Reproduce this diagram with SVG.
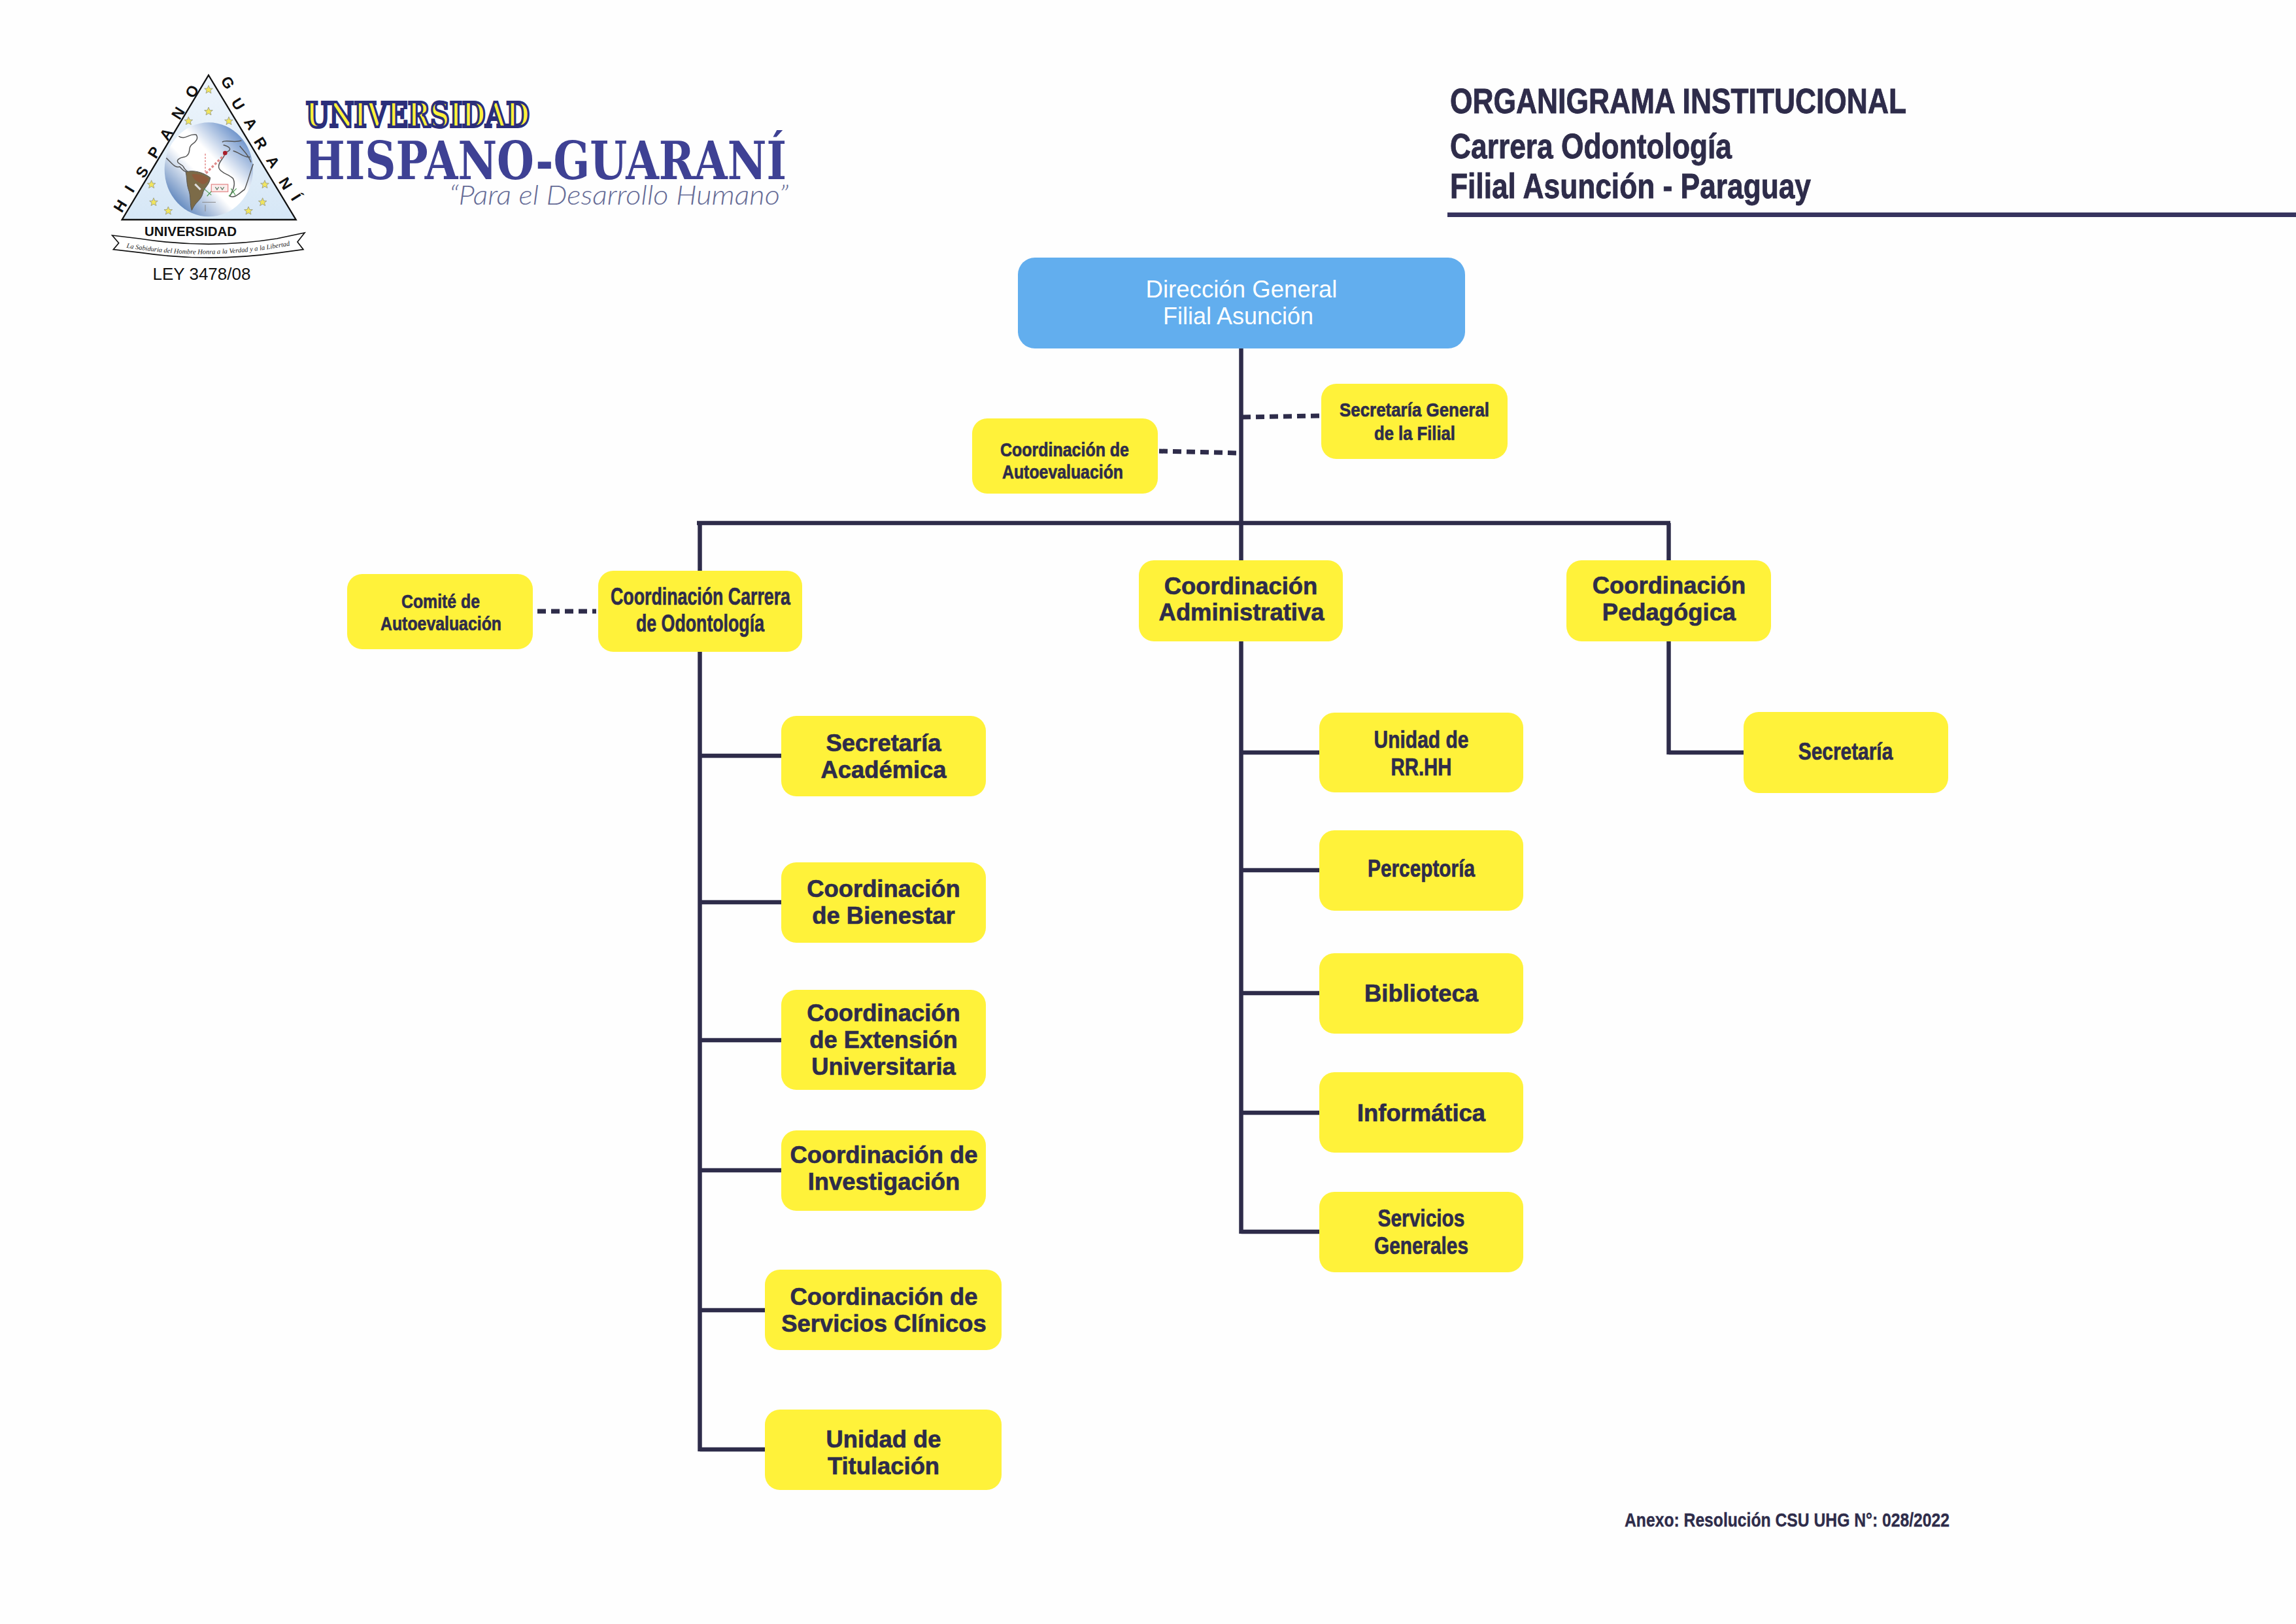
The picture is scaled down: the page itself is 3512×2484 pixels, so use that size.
<svg xmlns="http://www.w3.org/2000/svg" xmlns:xlink="http://www.w3.org/1999/xlink" width="3512" height="2484" viewBox="0 0 3512 2484">
<style>
.box{fill:#FFF23A}
.t{font-family:"Liberation Sans",Arial,sans-serif;font-weight:bold;font-size:36.4px;fill:#2E2C4A;stroke:#2E2C4A;stroke-width:.7;text-anchor:middle}
.s{font-size:30px}
.w{font-family:"Liberation Sans",Arial,sans-serif;font-size:37px;fill:#FFFFFF;text-anchor:middle}
.h{font-family:"Liberation Sans",Arial,sans-serif;font-weight:bold;font-size:53px;fill:#2E2C4A;stroke:#2E2C4A;stroke-width:.9}
.ln{stroke:#2E2C4A;stroke-width:6.5;fill:none}
.ds{stroke:#2E2C4A;stroke-width:7;fill:none;stroke-dasharray:13 8}
.lt{font-family:"Liberation Sans",Arial,sans-serif;font-weight:bold;font-size:70px;fill:#111;text-anchor:middle}
.st{fill:#F1E55C;stroke:#A3A58A;stroke-width:3}
.land{fill:none;stroke:#555;stroke-width:4.5}
</style>
<defs>
<linearGradient id="tri" x1="0" y1="0" x2="0" y2="1"><stop offset="0" stop-color="#EEF5FC"/><stop offset="1" stop-color="#D6E7F6"/></linearGradient>
<linearGradient id="globe" gradientUnits="userSpaceOnUse" x1="650" y1="300" x2="300" y2="640"><stop offset="0" stop-color="#4F7DC0"/><stop offset=".4" stop-color="#FFFFFF"/><stop offset=".6" stop-color="#FFFFFF"/><stop offset="1" stop-color="#4B77B5"/></linearGradient>
<path id="star" class="st" d="M0,-20 L5.5,-6.5 L19,-6 L8.5,2.5 L12,16 L0,8.5 L-12,16 L-8.5,2.5 L-19,-6 L-5.5,-6.5 Z"/>
<path id="ribbonCurve" d="M100,836 Q470,900 852,826"/>
</defs>
<rect width="3512" height="2484" fill="#FEFEFE"/>

<g id="logo">
<g id="emblem" transform="translate(160 100) scale(.33333)">
<path d="M477,45 L878,708 L80,708 Z" fill="url(#tri)" stroke="#111" stroke-width="7" stroke-linejoin="miter"/>
<ellipse cx="478" cy="478" rx="203" ry="216" fill="url(#globe)"/>
<path class="land" d="M340,325 C370,345 385,312 420,318 C432,335 420,350 402,362 C380,378 398,395 380,412 C368,428 350,415 335,435 C330,455 360,450 365,472 C372,482 378,486 385,490"/>
<path class="land" d="M283,425 C310,450 322,472 345,465 C358,480 368,490 385,490"/>
<path d="M372,490 C400,478 450,488 485,515 C482,550 455,560 450,590 C440,622 420,622 400,665 C390,640 397,600 385,570 C375,540 378,510 372,490 Z" fill="#7C6B48" stroke="#555" stroke-width="3"/>
<path d="M400,500 C430,495 460,505 478,520 C470,545 450,550 440,540 C420,530 405,520 400,500 Z" fill="#8E5B3C"/>
<path d="M415,545 L440,570" stroke="#DDD" stroke-width="9" fill="none"/>
<path class="land" d="M540,352 C555,338 590,358 628,345 M545,365 C570,372 590,385 560,398 M590,392 C620,400 640,425 668,420 M620,370 C640,395 660,410 672,445"/>
<path class="land" d="M552,410 C540,432 518,450 525,472 C535,497 570,498 590,520 C602,545 590,572 575,600 C600,612 622,582 642,570 C652,550 668,490 682,452"/>
<path d="M462,405 L462,495" stroke="#E79A9A" stroke-width="5" stroke-dasharray="9 6" fill="none"/>
<path d="M465,495 L548,412" stroke="#DE8A8A" stroke-width="10" stroke-dasharray="11 8" fill="none"/>
<circle cx="553" cy="402" r="10" fill="#A81E2A"/>
<rect x="490" y="546" width="76" height="34" fill="#FBEDEC" stroke="#E58F8F" stroke-width="4"/>
<path d="M508,558 L516,570 L524,558 M532,558 L540,570 L548,558" stroke="#5B7F6A" stroke-width="4" fill="none"/>
<path d="M455,565 L490,595 M470,600 L490,578 M570,600 L605,565 M580,565 L600,595" stroke="#4F9A55" stroke-width="3.5" fill="none"/>
<path d="M448,628 L510,628 M462,640 L462,670" stroke="#888" stroke-width="3" fill="none"/>
<use xlink:href="#star" href="#star" x="477" y="112"/>
<use xlink:href="#star" href="#star" x="477" y="212"/>
<use xlink:href="#star" href="#star" x="385" y="256"/>
<use xlink:href="#star" href="#star" x="570" y="256"/>
<use xlink:href="#star" href="#star" x="215" y="547"/>
<use xlink:href="#star" href="#star" x="735" y="547"/>
<use xlink:href="#star" href="#star" x="225" y="628"/>
<use xlink:href="#star" href="#star" x="725" y="628"/>
<use xlink:href="#star" href="#star" x="292" y="668"/>
<use xlink:href="#star" href="#star" x="660" y="668"/>
<text class="lt" transform="translate(92 658) rotate(-58)">H</text>
<text class="lt" transform="translate(135 580) rotate(-58)">I</text>
<text class="lt" transform="translate(192 502) rotate(-58)">S</text>
<text class="lt" transform="translate(248 412) rotate(-58)">P</text>
<text class="lt" transform="translate(303 328) rotate(-58)">A</text>
<text class="lt" transform="translate(358 232) rotate(-58)">N</text>
<text class="lt" transform="translate(422 132) rotate(-58)">O</text>
<text class="lt" transform="translate(545 92) rotate(58)">G</text>
<text class="lt" transform="translate(592 190) rotate(58)">U</text>
<text class="lt" transform="translate(650 280) rotate(58)">A</text>
<text class="lt" transform="translate(696 370) rotate(58)">R</text>
<text class="lt" transform="translate(752 456) rotate(58)">A</text>
<text class="lt" transform="translate(810 555) rotate(58)">N</text>
<text class="lt" transform="translate(858 618) rotate(58)">Í</text>
<path d="M35,780 L160,795 Q480,845 790,795 L918,768 L885,810 L912,845 L800,860 Q480,905 170,860 L40,845 L65,815 Z" fill="#FFF" stroke="#111" stroke-width="5"/>
<text font-family="Liberation Serif,serif" font-style="italic" font-size="31px" fill="#222"><textPath xlink:href="#ribbonCurve" href="#ribbonCurve" textLength="755" lengthAdjust="spacingAndGlyphs">La Sabiduria del Hombre Honra a la Verdad y a la Libertad</textPath></text>
</g>
<text x="291.5" y="361" text-anchor="middle" font-family="Liberation Sans,sans-serif" font-weight="bold" font-size="20px" fill="#111" textLength="141" lengthAdjust="spacingAndGlyphs">UNIVERSIDAD</text>
<text x="308.5" y="428" text-anchor="middle" font-family="Liberation Sans,sans-serif" font-size="26px" fill="#111">LEY 3478/08</text>
<text x="468" y="194" font-family="DejaVu Serif,serif" font-weight="bold" font-size="52px" fill="#FFF23A" stroke="#2B2E7A" stroke-width="4" textLength="342" lengthAdjust="spacingAndGlyphs">UNIVERSIDAD</text>
<text x="466" y="274" font-family="DejaVu Serif,serif" font-weight="bold" font-size="81px" fill="#3E4194" textLength="737" lengthAdjust="spacingAndGlyphs">HISPANO-GUARANÍ</text>
<text x="687" y="313" font-family="Lato,Liberation Sans,sans-serif" font-style="italic" font-weight="300" font-size="42px" fill="#656B96" textLength="519" lengthAdjust="spacingAndGlyphs">“Para el Desarrollo Humano”</text>
</g>

<g id="title">
<text class="h" x="2218" y="173" textLength="698" lengthAdjust="spacingAndGlyphs">ORGANIGRAMA INSTITUCIONAL</text>
<text class="h" x="2218" y="242" textLength="431" lengthAdjust="spacingAndGlyphs">Carrera Odontología</text>
<text class="h" x="2218" y="303" textLength="552" lengthAdjust="spacingAndGlyphs">Filial Asunción - Paraguay</text>
<rect x="2214" y="325" width="1298" height="7" fill="#37345F"/>
</g>

<g id="connectors">
<path class="ln" d="M1898.5,533 V1887"/>
<path class="ln" d="M1066,800 H2555"/>
<path class="ln" d="M1070.5,800 V2220"/>
<path class="ln" d="M2552.5,800 V1154"/>
<path class="ln" d="M1070.5,1156 H1196 M1070.5,1380 H1196 M1070.5,1591 H1196 M1070.5,1790 H1196 M1070.5,2004 H1171 M1070.5,2217 H1171"/>
<path class="ln" d="M1898.5,1151 H2019 M1898.5,1331 H2019 M1898.5,1519 H2019 M1898.5,1702 H2019 M1898.5,1884 H2019"/>
<path class="ln" d="M2552.5,1151 H2668"/>
<path class="ds" d="M1900,638 L2018,636"/>
<path class="ds" d="M1773,690 L1896,693"/>
<path class="ds" d="M822,935 L912,935"/>
</g>

<g id="n-direccion"><rect x="1557" y="394" width="684" height="139" rx="26" fill="#62AEEE"/>
<text class="w" x="1899" y="455" textLength="293" lengthAdjust="spacingAndGlyphs">Dirección General</text><text class="w" x="1894" y="496" textLength="230" lengthAdjust="spacingAndGlyphs">Filial Asunción</text></g>

<g id="n-secretaria-general"><rect class="box" x="2021" y="587" width="285" height="115" rx="23"/>
<text class="t s" x="2163.5" y="637" textLength="229" lengthAdjust="spacingAndGlyphs">Secretaría General</text><text class="t s" x="2164" y="673" textLength="124" lengthAdjust="spacingAndGlyphs">de la Filial</text></g>

<g id="n-coord-autoevaluacion"><rect class="box" x="1487" y="640" width="284" height="115" rx="23"/>
<text class="t s" x="1628.5" y="698" textLength="197" lengthAdjust="spacingAndGlyphs">Coordinación de</text><text class="t s" x="1625.5" y="732" textLength="185" lengthAdjust="spacingAndGlyphs">Autoevaluación</text></g>

<g id="n-comite"><rect class="box" x="531" y="878" width="284" height="115" rx="23"/>
<text class="t s" x="674" y="930" textLength="120" lengthAdjust="spacingAndGlyphs">Comité de</text><text class="t s" x="674.5" y="964" textLength="185" lengthAdjust="spacingAndGlyphs">Autoevaluación</text></g>

<g id="n-coord-carrera"><rect class="box" x="915" y="873" width="312" height="124" rx="23"/>
<text class="t" x="1071.5" y="925" textLength="275" lengthAdjust="spacingAndGlyphs">Coordinación Carrera</text><text class="t" x="1071" y="966" textLength="196" lengthAdjust="spacingAndGlyphs">de Odontología</text></g>

<g id="n-coord-admin"><rect class="box" x="1742" y="857" width="312" height="124" rx="23"/>
<text class="t" x="1898" y="908.5">Coordinación</text><text class="t" x="1899" y="949">Administrativa</text></g>

<g id="n-coord-pedagogica"><rect class="box" x="2396" y="857" width="313" height="124" rx="23"/>
<text class="t" x="2553" y="908">Coordinación</text><text class="t" x="2553" y="949">Pedagógica</text></g>

<g id="n-secretaria"><rect class="box" x="2667" y="1089" width="313" height="124" rx="23"/>
<text class="t" x="2823" y="1162" textLength="144.5" lengthAdjust="spacingAndGlyphs">Secretaría</text></g>

<g id="n-sec-academica"><rect class="box" x="1195" y="1095" width="313" height="123" rx="23"/>
<text class="t" x="1351.5" y="1149">Secretaría</text><text class="t" x="1351.5" y="1190">Académica</text></g>

<g id="n-bienestar"><rect class="box" x="1195" y="1319" width="313" height="123" rx="23"/>
<text class="t" x="1351.5" y="1372">Coordinación</text><text class="t" x="1351.5" y="1413">de Bienestar</text></g>

<g id="n-extension"><rect class="box" x="1195" y="1514" width="313" height="153" rx="23"/>
<text class="t" x="1351.5" y="1562">Coordinación</text><text class="t" x="1351.5" y="1603">de Extensión</text><text class="t" x="1351.5" y="1644">Universitaria</text></g>

<g id="n-investigacion"><rect class="box" x="1195" y="1729" width="313" height="123" rx="23"/>
<text class="t" x="1352" y="1779">Coordinación de</text><text class="t" x="1352" y="1820">Investigación</text></g>

<g id="n-clinicos"><rect class="box" x="1170" y="1942" width="362" height="123" rx="23"/>
<text class="t" x="1352" y="1996">Coordinación de</text><text class="t" x="1352" y="2037">Servicios Clínicos</text></g>

<g id="n-titulacion"><rect class="box" x="1170" y="2156" width="362" height="123" rx="23"/>
<text class="t" x="1351.5" y="2214">Unidad de</text><text class="t" x="1351.5" y="2255">Titulación</text></g>

<g id="n-rrhh"><rect class="box" x="2018" y="1090" width="312" height="122" rx="23"/>
<text class="t" x="2174" y="1144" textLength="145" lengthAdjust="spacingAndGlyphs">Unidad de</text><text class="t" x="2174" y="1186" textLength="93" lengthAdjust="spacingAndGlyphs">RR.HH</text></g>

<g id="n-perceptoria"><rect class="box" x="2018" y="1270" width="312" height="123" rx="23"/>
<text class="t" x="2174" y="1341" textLength="164" lengthAdjust="spacingAndGlyphs">Perceptoría</text></g>

<g id="n-biblioteca"><rect class="box" x="2018" y="1458" width="312" height="123" rx="23"/>
<text class="t" x="2174" y="1532">Biblioteca</text></g>

<g id="n-informatica"><rect class="box" x="2018" y="1640" width="312" height="123" rx="23"/>
<text class="t" x="2174" y="1715">Informática</text></g>

<g id="n-servicios"><rect class="box" x="2018" y="1823" width="312" height="123" rx="23"/>
<text class="t" x="2174" y="1876" textLength="133" lengthAdjust="spacingAndGlyphs">Servicios</text><text class="t" x="2174" y="1918" textLength="144" lengthAdjust="spacingAndGlyphs">Generales</text></g>

<g id="footer"><text x="2485" y="2335" font-family="Liberation Sans,sans-serif" font-weight="bold" font-size="30px" fill="#2E2C4A" stroke="#2E2C4A" stroke-width=".4" textLength="497" lengthAdjust="spacingAndGlyphs">Anexo: Resolución CSU UHG N°: 028/2022</text></g>
</svg>
